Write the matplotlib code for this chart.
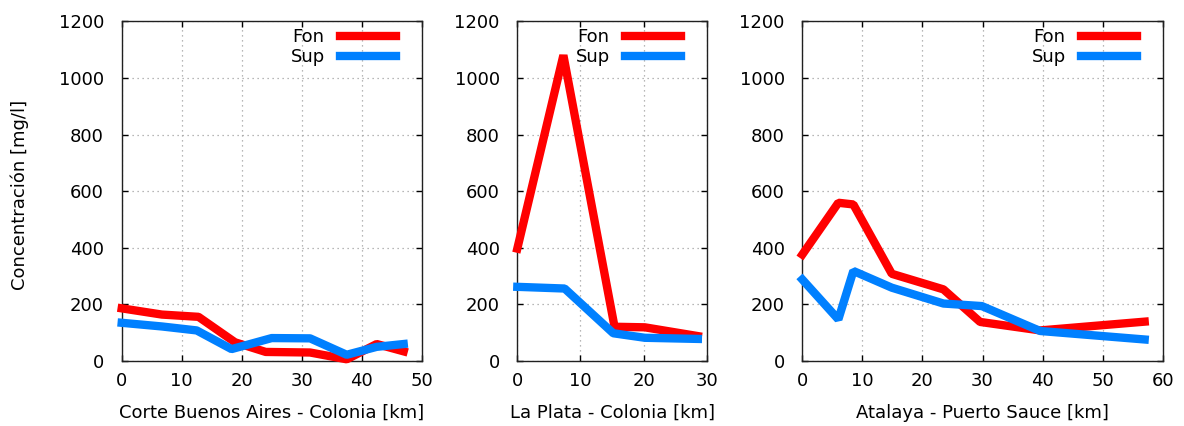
import matplotlib
matplotlib.use('Agg')
import matplotlib.pyplot as plt

# distances along each transect [km] and concentrations [mg/l]
# bottom (Fon) and surface (Sup) samples
bsas_col_km_fon = [0, 6.7, 12.8, 18.9, 24, 31.4, 37.5, 42.5, 47]
bsas_col_fon = [186, 164, 156, 66, 32, 30, 6, 60, 34]
bsas_col_km_sup = [0, 6.7, 12.5, 18.3, 25, 31.4, 37.5, 42.5, 47]
bsas_col_sup = [135, 122, 108, 42, 81, 80, 22, 50, 60]

lp_col_km_fon = [0, 7.3, 15.4, 20.2, 28.6]
lp_col_fon = [397, 1080, 121, 119, 88]
lp_col_km_sup = [0, 7.5, 15.2, 20.2, 28.6]
lp_col_sup = [262, 256, 98, 82, 78]

at_ps_km_fon = [0, 6, 8.5, 14.9, 23.5, 29.6, 39.6, 57]
at_ps_fon = [376, 559, 553, 308, 253, 138, 108, 139]
at_ps_km_sup = [0, 6, 8.5, 14.9, 23.5, 29.9, 39.6, 57]
at_ps_sup = [288, 147, 318, 259, 203, 194, 106, 76]

xlabels = ['Corte Buenos Aires - Colonia [km]',
           'La Plata - Colonia [km]',
           'Atalaya - Puerto Sauce [km]']
xmax = [50, 30, 60]
yticks = [0, 200, 400, 600, 800, 1000, 1200]

series = [
    (bsas_col_km_fon, bsas_col_fon, bsas_col_km_sup, bsas_col_sup),
    (lp_col_km_fon, lp_col_fon, lp_col_km_sup, lp_col_sup),
    (at_ps_km_fon, at_ps_fon, at_ps_km_sup, at_ps_sup),
]

fs = 13
plt.rcParams['font.family'] = 'DejaVu Sans'
plt.rcParams['font.size'] = fs

W, H = 1184, 426
fig = plt.figure(figsize=(W / 100., H / 100.), dpi=100)

# panel boxes in pixels: left, right
boxes = [(121.7, 421.7), (517.3, 706.7), (802.3, 1162.7)]
top_px, bottom_px = 21.3, 361.0
hgt = bottom_px - top_px

for i, (l, r) in enumerate(boxes):
    wid = r - l
    ax = fig.add_axes([l / W, (H - bottom_px) / H, wid / W, hgt / H])
    xf, yf, xs, ys = series[i]
    ax.plot(xf, yf, color='#ff0000', lw=6, label='Fon',
            solid_joinstyle='bevel', solid_capstyle='projecting',
            clip_on=False, zorder=3)
    ax.plot(xs, ys, color='#0080ff', lw=6, label='Sup',
            solid_joinstyle='bevel', solid_capstyle='projecting',
            clip_on=False, zorder=4)

    ax.set_xlim(0, xmax[i])
    ax.set_ylim(0, 1200)
    ax.set_xticks(range(0, xmax[i] + 1, 10))
    ax.set_yticks(yticks)
    ax.tick_params(direction='in', length=4, width=1, top=True, right=True,
                   labelsize=fs)
    ax.tick_params(axis='x', pad=8)
    ax.tick_params(axis='y', pad=12.7)
    ax.grid(True, color='#a0a0a0', linestyle=(0, (1, 3)), linewidth=0.9)
    ax.set_axisbelow(True)
    for sp in ax.spines.values():
        sp.set_linewidth(1)
        sp.set_color('#202020')

    ax.set_xlabel(xlabels[i], fontsize=fs)
    ax.xaxis.label.set_va('center')
    ax.xaxis.set_label_coords(0.5, -(412.7 - bottom_px) / hgt)
    if i == 0:
        ax.set_ylabel(u'Concentraci\u00f3n [mg/l]', fontsize=fs)
        ax.yaxis.label.set_va('center')
        ax.yaxis.set_label_coords(-(l - 19.5) / wid, 0.49)

    # legend: text first, thick sample line on the right
    leg = ax.legend(loc='upper right', frameon=False, markerfirst=False,
                    handlelength=3.1, handletextpad=0.83, labelspacing=0.13,
                    borderpad=0, borderaxespad=0,
                    bbox_to_anchor=(1 - 26.0 / wid, 0.9806))
    for t in leg.get_texts():
        t.set_ha('right')

fig.savefig('out.png', dpi=100)
